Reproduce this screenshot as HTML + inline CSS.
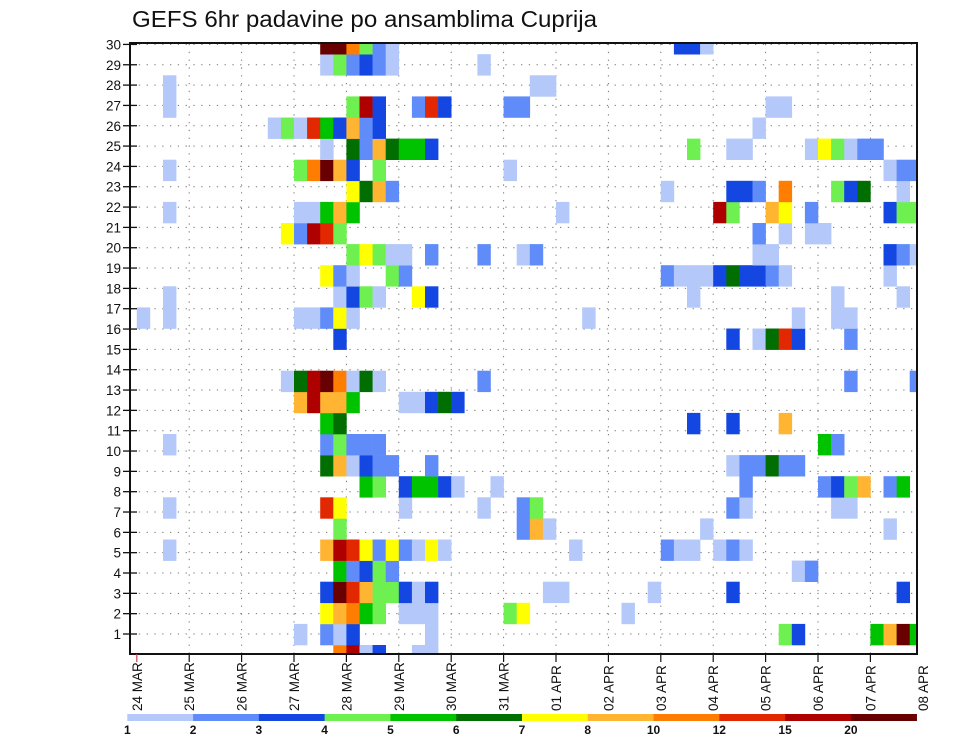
<!DOCTYPE html>
<html><head><meta charset="utf-8">
<style>
html,body{margin:0;padding:0;background:#fff;}
svg{display:block;font-family:"Liberation Sans",sans-serif;}
</style></head>
<body>
<svg id="chart" width="960" height="742" viewBox="0 0 960 742" xmlns="http://www.w3.org/2000/svg">
  <rect x="0" y="0" width="960" height="742" fill="#fff"/>
  <text x="132" y="27" font-size="23" textLength="465" lengthAdjust="spacingAndGlyphs" fill="#111">GEFS 6hr padavine po ansamblima Cuprija</text>
  <defs><clipPath id="plotclip"><rect x="130" y="43" width="787" height="611"/></clipPath></defs>
  <g id="grid"></g>
  <g id="cells" clip-path="url(#plotclip)"></g>
  <rect x="130" y="43" width="787" height="611" fill="none" stroke="#111" stroke-width="2"/>
  <g id="yaxis"></g>
  <g id="xaxis"></g>
  <g id="cbar"></g>
</svg>
<script>
// ---- data ----
const dayLabels = ["24 MAR","25 MAR","26 MAR","27 MAR","28 MAR","29 MAR","30 MAR","31 MAR","01 APR","02 APR","03 APR","04 APR","05 APR","06 APR","07 APR","08 APR"];
const memberTicks = [1,2,3,4,5,6,7,8,9,10,11,12,13,14,15,16,17,18,19,20,21,22,23,24,25,26,27,28,29,30];
const levelLabels = ["1","2","3","4","5","6","7","8","10","12","15","20"];
const levelColors = ["#b4c8fa","#608cfa","#1446e1","#6ef050","#00c300","#006e00","#ffff00","#ffb432","#ff7d00","#e12800","#af0000","#690000"];
// cell rows (bottom row index 0 .. top row 29); entries "column:level" (level 1..9,a,b,c)
const row0  = "15:9 16:b 17:1 18:3 21:1 22:1";
const row1  = "12:1 14:2 15:1 16:3 22:1 49:4 50:3 56:5 57:8 58:c 59:5";
const row2  = "14:7 15:8 16:9 17:5 18:4 20:1 21:1 22:1 28:4 29:7 37:1";
const row3  = "14:3 15:c 16:a 17:8 18:4 19:4 20:3 21:1 22:3 31:1 32:1 39:1 45:3 58:3";
const row4  = "15:5 16:2 17:3 18:4 19:2 50:1 51:2";
const row5  = "2:1 14:8 15:b 16:a 17:7 18:2 19:7 20:2 21:1 22:7 23:1 33:1 40:2 41:1 42:1 44:1 45:2 46:1";
const row6  = "15:4 29:2 30:8 31:1 43:1 57:1";
const row7  = "2:1 14:a 15:7 20:1 26:1 29:2 30:4 45:2 46:1 53:1 54:1";
const row8  = "17:5 18:4 20:3 21:5 22:5 23:3 24:1 27:1 46:2 52:2 53:3 54:4 55:8 57:2 58:5";
const row9  = "14:6 15:8 16:1 17:3 18:2 19:2 22:2 45:1 46:2 47:2 48:6 49:2 50:2";
const row10 = "2:1 14:2 15:4 16:2 17:2 18:2 52:5 53:2";
const row11 = "14:5 15:6 42:3 45:3 49:8";
const row12 = "12:8 13:b 14:8 15:8 16:5 20:1 21:1 22:3 23:6 24:3";
const row13 = "11:1 12:6 13:b 14:c 15:9 16:1 17:6 18:1 26:2 54:2 59:2";
const row14 = "";
const row15 = "15:3 45:3 47:1 48:6 49:a 50:3 54:2";
const row16 = "0:1 2:1 12:1 13:1 14:2 15:7 16:1 34:1 50:1 53:1 54:1";
const row17 = "2:1 15:1 16:3 17:4 18:1 21:7 22:3 42:1 53:1 58:1";
const row18 = "14:7 15:2 16:1 19:4 20:2 40:2 41:1 42:1 43:1 44:3 45:6 46:3 47:3 48:2 49:1 57:1";
const row19 = "16:4 17:7 18:4 19:1 20:1 22:2 26:2 29:1 30:2 47:1 48:1 57:3 58:2 59:1";
const row20 = "11:7 12:2 13:b 14:a 15:4 47:2 49:1 51:1 52:1";
const row21 = "2:1 12:1 13:1 14:5 15:8 16:5 32:1 44:b 45:4 48:8 49:7 51:2 57:3 58:4 59:4";
const row22 = "16:7 17:6 18:8 19:2 40:1 45:3 46:3 47:2 49:9 53:4 54:3 55:6 58:1";
const row23 = "2:1 12:4 13:9 14:c 15:8 16:3 18:4 28:1 57:1 58:2 59:2";
const row24 = "14:1 16:6 17:2 18:8 19:6 20:5 21:5 22:3 42:4 45:1 46:1 51:1 52:7 53:4 54:1 55:2 56:2";
const row25 = "10:1 11:4 12:1 13:a 14:5 15:3 16:8 17:2 18:3 47:1";
const row26 = "2:1 16:4 17:b 18:3 21:2 22:a 23:3 28:2 29:2 48:1 49:1";
const row27 = "2:1 30:1 31:1";
const row28 = "14:1 15:4 16:2 17:3 18:2 19:1 26:1";
const row29 = "14:c 15:c 16:9 17:4 18:2 19:1 41:3 42:3 43:1";
const rowData = [row0,row1,row2,row3,row4,row5,row6,row7,row8,row9,row10,row11,row12,row13,row14,row15,row16,row17,row18,row19,row20,row21,row22,row23,row24,row25,row26,row27,row28,row29];

// ---- scales ----
const X0 = 136.8, DAYW = 52.4, STEPW = DAYW/4;
function xDay(d){ return X0 + d*DAYW; }
function xStep(c){ return X0 + c*STEPW; }
const CELLH = 21.1;
function yCellTop(j){ return 645 - j*CELLH; }
function yTick(k){ return 634 - (k-1)*20.33; }
function levelIndex(ch){ return parseInt(ch,16)-1; }

const NS = "http://www.w3.org/2000/svg";
function mk(tag, attrs, parent){
  const e = document.createElementNS(NS, tag);
  for (const k in attrs) e.setAttribute(k, attrs[k]);
  parent.appendChild(e); return e;
}

// grid
const grid = document.getElementById('grid');
memberTicks.forEach(function(k){
  const l = mk('line',{x1:131,x2:916,y1:yTick(k),y2:yTick(k),stroke:'#777','stroke-width':1,'stroke-dasharray':'1.3 6.5'},grid);
  
  
});
for (let d=1; d<dayLabels.length-1; d++){
  const l = mk('line',{x1:xDay(d),x2:xDay(d),y1:44,y2:653,stroke:'#777','stroke-width':1,'stroke-dasharray':'1.3 6.5'},grid);
  
  
}

// cells
const cells = document.getElementById('cells');
rowData.forEach(function(str, j){
  if (!str) return;
  str.split(' ').forEach(function(tok){
    const p = tok.split(':');
    const c = parseInt(p[0],10), li = levelIndex(p[1]);
    const r = mk('rect',{x:xStep(c).toFixed(2),y:yCellTop(j).toFixed(2),width:(STEPW+0.3).toFixed(2),height:(CELLH+0.3).toFixed(2),fill:levelColors[li]},cells);
    
    
  });
});

// y axis
const ya = document.getElementById('yaxis');
memberTicks.forEach(function(k){
  const t = mk('line',{x1:123,x2:137,y1:yTick(k),y2:yTick(k),stroke:'#111','stroke-width':1.3},ya);
  
  
  const tx = mk('text',{x:121,y:yTick(k)+5,'font-size':13.5,'text-anchor':'end',fill:'#111'},ya);
  tx.textContent = String(k);
  
  
});

// x axis
const xa = document.getElementById('xaxis');
dayLabels.forEach(function(lab, d){
  const x = xDay(d);
  if (x < 918) {
    const t = mk('line',{x1:x,x2:x,y1:654,y2:662,stroke:d===0?'#c44':'#111','stroke-width':1.2},xa);
    
    
  }
  const tx = mk('text',{x:0,y:0,'font-size':13.5,fill:'#111',transform:'translate('+(x+5)+',711) rotate(-90)'},xa);
  tx.textContent = lab;
  
  
});

// colorbar
const cb = document.getElementById('cbar');
const CB0 = 127.3, CBW = 65.78;
levelColors.forEach(function(col, i){
  const r = mk('rect',{x:CB0+i*CBW,y:714,width:CBW+0.3,height:7,fill:col},cb);
  
  
});
levelLabels.forEach(function(lab, i){
  const tx = mk('text',{x:CB0+i*CBW,y:734,'font-size':12,'font-weight':'bold','text-anchor':'middle',fill:'#111'},cb);
  tx.textContent = lab;
  
  
});
</script>
</body></html>
